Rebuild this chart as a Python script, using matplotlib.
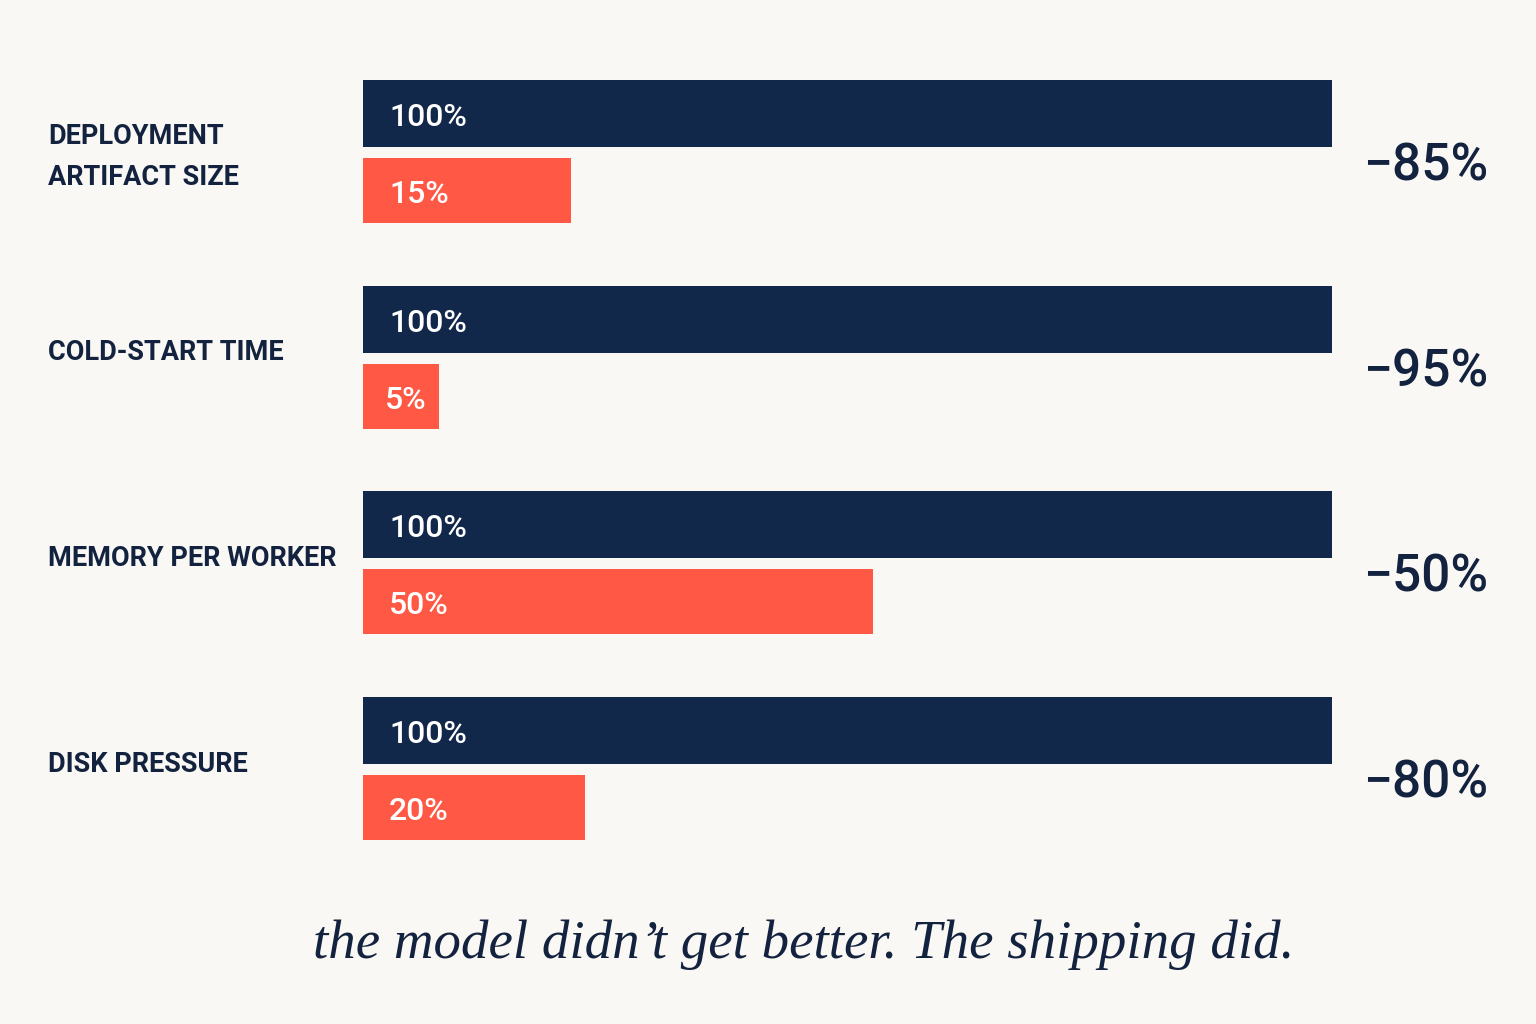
import matplotlib
matplotlib.use("Agg")
import matplotlib.pyplot as plt

# data (red bar lengths as drawn in the picture, labels as printed)
categories = [["DEPLOYMENT", "ARTIFACT SIZE"], ["COLD-START TIME"],
              ["MEMORY PER WORKER"], ["DISK PRESSURE"]]
before_vals = [100, 100, 100, 100]
after_vals = [21.5, 7.8, 52.6, 22.9]
after_labels = ["15%", "5%", "50%", "20%"]
deltas = ["\u221285%", "\u221295%", "\u221250%", "\u221280%"]

NAVY = "#12284A"
RED = "#FF5844"
BG = "#FAF8F4"
INK = "#13233F"

W, H = 1536, 1024
fig = plt.figure(figsize=(W / 100, H / 100), dpi=100, facecolor=BG)

# axes spans the bar area: x 363..1332 px, y 80..843 px (pixel-like y units)
ax = fig.add_axes([363 / W, 1 - 843 / H, 969 / W, 763 / H])
ax.set_facecolor(BG)
ax.set_xlim(0, 100)
ax.set_ylim(763, 0)
ax.axis("off")

pitch = 205.7
nav_h, red_h, red_off = 67, 65, 78

for i, (lab, b, a, al, d) in enumerate(zip(categories, before_vals, after_vals,
                                            after_labels, deltas)):
    base = i * pitch
    yb = base + nav_h / 2
    yr = base + red_off + red_h / 2
    ax.barh(yb, b, height=nav_h, color=NAVY, edgecolor="none")
    ax.barh(yr, a, height=red_h, color=RED, edgecolor="none")
    ax.text(2.7, yb + 12.5, f"{b}%", color="white", va="baseline", ha="left",
            fontsize=23, family="Roboto", weight="medium")
    ax.text(2.7 if a > 10 else 2.3, yr + 12.5, al, color="white", va="baseline",
            ha="left", fontsize=23, family="Roboto", weight="medium")

    center = base + (red_off + red_h) / 2
    ax.text(103.2, center + 29, d, color=INK, va="baseline", ha="left",
            fontsize=37, family="Roboto", weight="medium", clip_on=False)

    # category label, left of the bars
    if len(lab) == 2:
        ys = [center - 7.5, center + 33.5]
    else:
        ys = [center + 3]
    for line, y in zip(lab, ys):
        ax.text(-32.5, y, line, color=INK, va="baseline", ha="left",
                fontsize=19.5, family="Roboto", weight="bold", clip_on=False)

fig.text(804 / W, 1 - 958 / H, "the model didn\u2019t get better. The shipping did.",
         ha="center", va="baseline", fontsize=39.5, family="Liberation Serif",
         style="italic", color=INK)

fig.savefig("out.png", dpi=100, facecolor=BG)
